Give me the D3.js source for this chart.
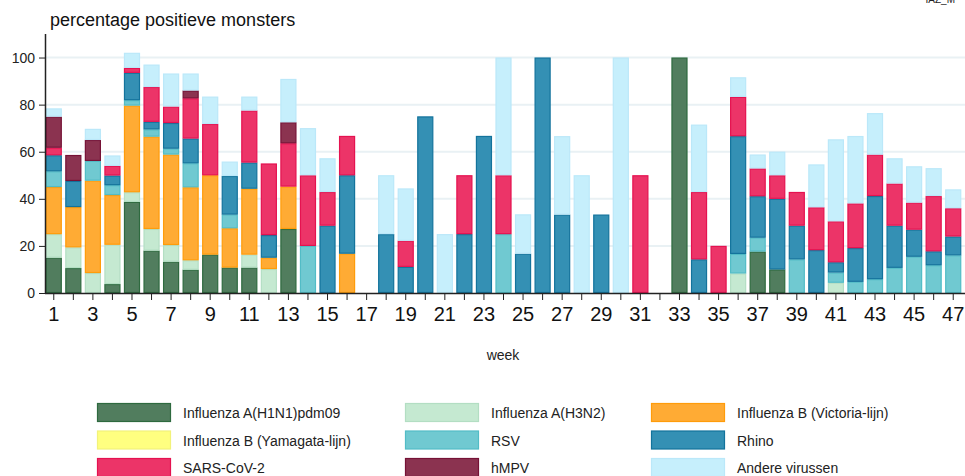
<!DOCTYPE html>
<html>
<head>
<meta charset="utf-8">
<style>
    body { margin: 0; background: #fff; }
    svg { font-family: Arial, "Liberation Sans", sans-serif; }
    .y .tick text { font-size: 14px; fill: #222; }
    .x .tick text { font-size: 20px; fill: #111; }
    .tick line { stroke: #222; }
    .domain { stroke: #222; stroke-width: 1.5; }
    .grid line { stroke: #e9f1f4; stroke-width: 2; }
    .legend-text { font-size: 14px; fill: #222; }
</style>
</head>
<body>
<svg width="965" height="476"></svg>

<script src="https://d3js.org/d3.v7.min.js"></script>
<script>
    let svg = d3.select("svg");

    let weeks = d3.range(1, 48);

    let series = [
        "Influenza A(H1N1)pdm09",
        "Influenza A(H3N2)",
        "Influenza B (Victoria-lijn)",
        "Influenza B (Yamagata-lijn)",
        "RSV",
        "Rhino",
        "SARS-CoV-2",
        "hMPV",
        "Andere virussen"
    ];

    // percentages per week (1..47)
    let h1n1 = [15, 10.6, 0, 3.8, 38.7, 18, 13.3, 9.9, 16.3, 10.8, 10.8, 0, 27.2,
        0, 0, 0, 0, 0, 0, 0, 0, 0, 0, 0, 0, 0, 0, 0, 0, 0, 0, 0,
        100, 0, 0, 0, 17.6, 10, 0, 0, 0, 0, 0, 0, 0, 0, 0];
    let h3n2 = [10, 8.8, 8.5, 16.7, 4.1, 9.2, 7.1, 4, 0, 0, 5.5, 10.2, 0,
        0, 0, 0, 0, 0, 0, 0, 0, 0, 0, 0, 0, 0, 0, 0, 0, 0, 0, 0, 0, 0, 0,
        8.3, 0, 0, 0, 0, 4.35, 0, 0, 0, 0, 0, 0];
    let victoria = [20, 17.1, 39.2, 21.1, 36.8, 39.2, 38.4, 31, 33.7, 16.7, 28, 4.8, 18,
        0, 0, 16.7, 0, 0, 0, 0, 0, 0, 0, 0, 0, 0, 0, 0, 0, 0, 0, 0, 0, 0, 0,
        0, 0, 0, 0, 0, 0, 0, 0, 0, 0, 0, 0];
    let yamagata = weeks.map(() => 0);
    let rsv = [6.7, 0, 8.4, 4.2, 2.3, 3.1, 2.5, 10.2, 0, 5.8, 0, 0, 0,
        20, 0, 0, 0, 0, 0, 0, 0, 0, 0, 25, 0, 0, 0, 0, 0, 0, 0, 0, 0, 0, 0,
        8.3, 5.9, 0, 14.3, 0, 4.35, 4.76, 5.88, 10.7, 15.4, 11.8, 16];
    let rhino = [6.8, 11.1, 0, 4.1, 11.6, 3.2, 10.9, 10.5, 0, 16.4, 11.1, 9.6, 0,
        0, 28.6, 33.3, 0, 25, 11.1, 75, 0, 25, 66.7, 0, 16.7, 100, 33.3, 0, 33.3, 0, 0, 0, 0, 14.3, 0,
        50, 17.6, 30, 14.3, 18.2, 4.35, 14.3, 35.3, 17.9, 11.5, 5.9, 8];
    let sars = [3.2, 0, 0, 4.1, 2.1, 14.8, 7, 17.1, 21.8, 0, 22.1, 30.4, 18.4,
        30, 14.3, 16.7, 0, 0, 11.1, 0, 0, 25, 0, 25, 0, 0, 0, 0, 0, 0, 50, 0, 0, 28.6, 20,
        16.7, 11.8, 10, 14.3, 18.2, 17.4, 19, 17.6, 17.9, 11.5, 23.5, 12];
    let hmpv = [13.2, 11, 8.9, 0, 0, 0, 0, 3.3, 0, 0, 0, 0, 8.9,
        0, 0, 0, 0, 0, 0, 0, 0, 0, 0, 0, 0, 0, 0, 0, 0, 0, 0, 0, 0, 0, 0,
        0, 0, 0, 0, 0, 0, 0, 0, 0, 0, 0, 0];
    let andere = [3.5, 0, 4.7, 4.4, 6.4, 9.5, 14, 7.2, 11.6, 6.1, 5.9, 0, 18.4,
        20, 14.3, 0, 0, 25, 22.2, 0, 25, 0, 0, 50, 16.7, 0, 33.3, 50, 0, 100, 0, 0, 0, 28.6, 0,
        8.3, 5.9, 10, 0, 18.2, 34.8, 28.6, 17.6, 10.7, 15.4, 11.8, 8];

    let fills = ["#517d5e", "#c5e9d1", "#ffab34", "#ffff80", "#70c9d1", "#3490b4", "#ec3468", "#8b3350", "#c6effc"];
    let strokes = ["#2e6a3f", "#b3dec3", "#ff9c0a", "#f2f27a", "#52bcc6", "#13739c", "#e51250", "#761236", "#bbe8f9"];

    let values = [h1n1, h3n2, victoria, yamagata, rsv, rhino, sars, hmpv, andere];

    let table = weeks.map((w, i) => {
        let row = { week: w };
        series.forEach((s, j) => row[s] = values[j][i]);
        return row;
    });

    let stacked = d3.stack().keys(series)(table);

    let x = d3.scaleBand()
        .domain(weeks)
        .range([44, 963])
        .paddingInner(0.18)
        .paddingOuter(0.09);

    let y = d3.scaleLinear()
        .domain([0, 110])
        .range([293, 34]);

    // grid
    svg.append("g")
        .attr("class", "grid")
        .selectAll("line")
        .data([20, 40, 60, 80, 100])
        .join("line")
        .attr("x1", 46)
        .attr("x2", 965)
        .attr("y1", d => y(d))
        .attr("y2", d => y(d));

    // bars
    svg.append("g")
        .selectAll("g")
        .data(stacked)
        .join("g")
        .attr("fill", (d, i) => fills[i])
        .attr("stroke", (d, i) => strokes[i])
        .selectAll("rect")
        .data(d => d.filter(p => p[1] - p[0] > 0))
        .join("rect")
        .attr("x", d => x(d.data.week) + 0.5)
        .attr("width", x.bandwidth() - 1)
        .attr("y", d => y(d[1]) + 0.5)
        .attr("height", d => Math.max(0, y(d[0]) - y(d[1]) - 1))
        .attr("stroke-width", 1.2);

    // axes
    svg.append("g")
        .attr("class", "x axis")
        .attr("transform", "translate(0,293)")
        .call(d3.axisBottom(x)
            .tickSize(7)
            .tickPadding(7)
            .tickFormat(d => d % 2 === 1 ? d : ""))
        .call(g => g.select(".domain").attr("d", "M45,0.5H965"));

    svg.append("g")
        .attr("class", "y axis")
        .attr("transform", "translate(45,0)")
        .call(d3.axisLeft(y)
            .tickValues([0, 20, 40, 60, 80, 100])
            .tickSize(6)
            .tickPadding(4))
        .call(g => g.select(".domain").attr("d", "M0.5,34V293"));

    // title
    svg.append("text")
        .attr("x", 50)
        .attr("y", 26)
        .attr("font-size", 18)
        .attr("fill", "#111")
        .text("percentage positieve monsters");

    svg.append("text")
        .attr("x", 955)
        .attr("y", 3)
        .attr("text-anchor", "end")
        .attr("font-size", 10)
        .attr("fill", "#222")
        .text("IAZ_M");

    svg.append("text")
        .attr("x", 503)
        .attr("y", 360)
        .attr("text-anchor", "middle")
        .attr("font-size", 14)
        .attr("fill", "#222")
        .text("week");

    // legend
    let colX = [97, 405, 651];
    let rowY = [403, 430.5, 458];
    series.forEach((s, i) => {
        let cx = colX[i % 3];
        let ry = rowY[Math.floor(i / 3)];
        svg.append("rect")
            .attr("x", cx + 0.5)
            .attr("y", ry + 0.5)
            .attr("width", 73)
            .attr("height", 18)
            .attr("fill", fills[i])
            .attr("stroke", strokes[i])
            .attr("stroke-width", 1.2);
        svg.append("text")
            .attr("class", "legend-text")
            .attr("x", cx + 86)
            .attr("y", ry + 15)
            .text(s);
    });
</script>
</body>
</html>
